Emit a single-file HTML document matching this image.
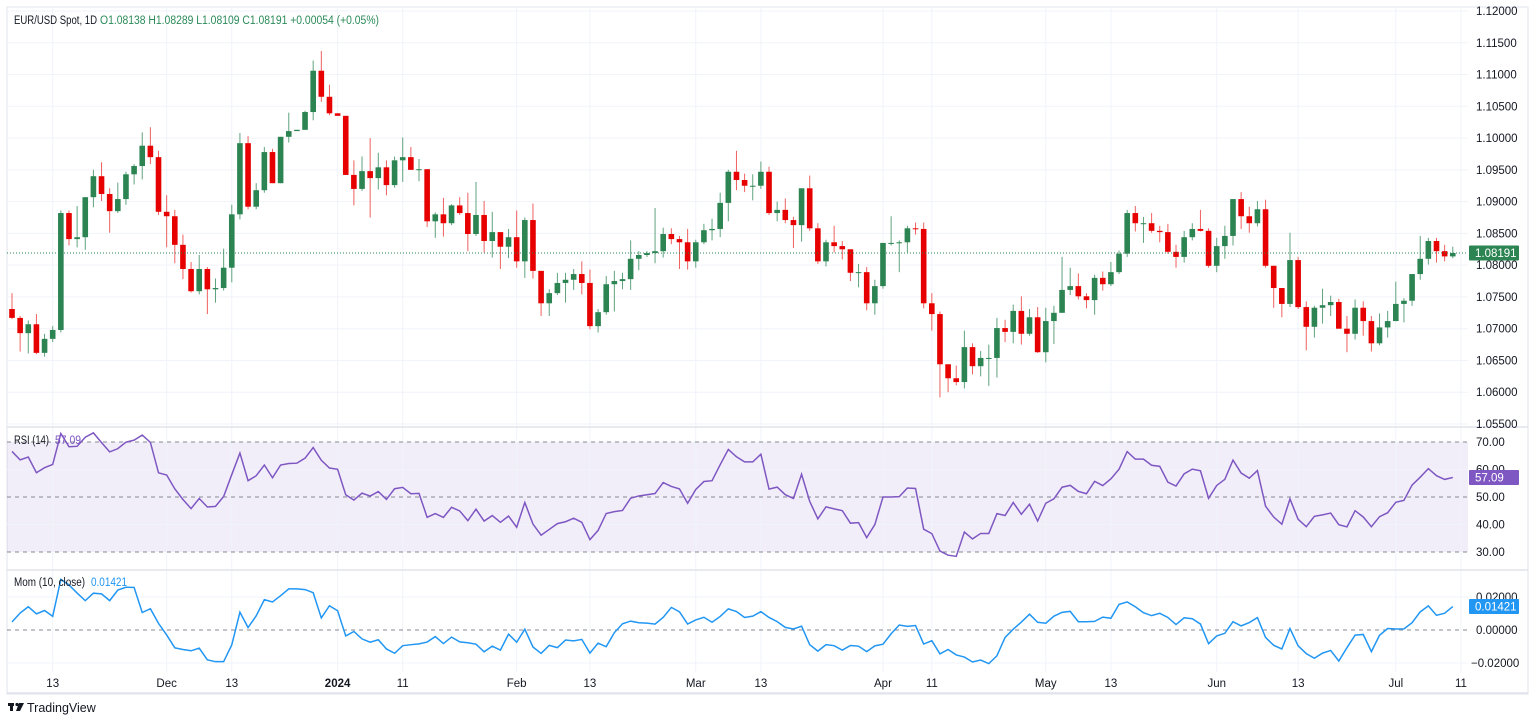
<!DOCTYPE html>
<html><head><meta charset="utf-8"><title>EUR/USD Spot 1D</title>
<style>
html,body{margin:0;padding:0;background:#fff;width:1536px;height:722px;overflow:hidden;font-family:"Liberation Sans",sans-serif;}
svg{display:block}
</style></head>
<body>
<svg id="chart" width="1536" height="722" xmlns="http://www.w3.org/2000/svg" font-family="Liberation Sans, sans-serif"></svg>
<script>
// ===== Data =====
const priorCloses = [1.0510,1.0556,1.0576,1.0534,1.0584,1.0594,1.0668,1.0590,1.0566,1.0564,1.0566,1.0615,1.0575,1.0568,1.0620,1.0729];
const firstOpen = 1.0731;
const closes = [
1.0717,1.0693,1.0707,1.0662,1.0684,1.0698,1.0882,1.0841,1.0844,1.0907,
1.0940,1.0912,1.0885,1.0904,1.0943,1.0956,1.0988,1.0970,1.0884,1.0877,
1.0832,1.0794,1.0759,1.0794,1.0762,1.0764,1.0796,1.0880,1.0992,1.0892,
1.0918,1.0978,1.0929,1.1002,1.1011,1.1013,1.1041,1.1106,1.1065,1.1039,
1.1035,1.0942,1.0920,1.0948,1.0937,1.0954,1.0926,1.0965,1.0970,1.0950,
1.0951,1.0869,1.0880,1.0866,1.0894,1.0882,1.0849,1.0879,1.0838,1.0852,
1.0829,1.0844,1.0806,1.0871,1.0791,1.0740,1.0756,1.0772,1.0777,1.0786,
1.0772,1.0704,1.0726,1.0770,1.0775,1.0778,1.0810,1.0816,1.0819,1.0822,
1.0849,1.0841,1.0836,1.0806,1.0836,1.0855,1.0857,1.0898,1.0947,1.0934,
1.0925,1.0925,1.0947,1.0882,1.0887,1.0871,1.0863,1.0921,1.0858,1.0806,
1.0836,1.0830,1.0825,1.0788,1.0789,1.0740,1.0767,1.0835,1.0835,1.0836,
1.0858,1.0857,1.0740,1.0723,1.0644,1.0622,1.0616,1.0671,1.0641,1.0654,
1.0654,1.0701,1.0695,1.0728,1.0692,1.0718,1.0663,1.0712,1.0725,1.0761,
1.0767,1.0751,1.0745,1.0780,1.0770,1.0789,1.0818,1.0882,1.0866,1.0866,
1.0854,1.0852,1.0821,1.0813,1.0844,1.0857,1.0854,1.0799,1.0830,1.0846,
1.0904,1.0877,1.0866,1.0888,1.0799,1.0764,1.0739,1.0808,1.0734,1.0703,
1.0733,1.0737,1.0742,1.0700,1.0692,1.0733,1.0712,1.0677,1.0702,1.0712,
1.0739,1.0744,1.0786,1.0810,1.0838,1.0822,1.08138,1.08191];
// upper / lower wick lengths in pips
const wickUp = [25,3,6,16,8,6,4,4,49,0,10,22,9,26,4,3,21,29,10,26,10,16,11,22,3,15,30,15,16,11,11,8,5,0,29,0,2,16,31,19,0,0,23,23,52,23,11,6,31,16,16,0,3,26,2,13,32,52,22,32,0,13,42,4,26,0,6,16,11,8,20,21,5,13,16,10,29,6,3,68,10,9,5,21,4,10,16,16,3,33,10,18,16,8,13,18,5,0,20,8,4,26,8,0,13,8,10,0,42,3,4,9,10,16,4,0,20,26,6,11,21,16,13,10,23,13,16,21,11,52,29,20,5,5,10,16,5,5,11,10,16,8,13,11,10,9,30,4,13,16,0,11,15,13,15,0,0,43,5,9,3,26,10,5,20,13,10,8,22,16,35,4,0,36,5,5,10,10];
const wickDn = [2,29,32,2,6,5,4,10,13,20,16,11,34,3,9,16,21,11,5,49,29,16,2,5,39,21,4,23,8,4,4,4,0,0,9,0,0,13,8,3,0,0,26,3,62,18,16,4,34,0,18,9,26,21,3,3,27,3,18,26,35,18,10,26,12,20,20,3,31,16,18,5,10,4,43,13,17,18,3,16,10,8,42,13,10,3,16,13,29,16,10,23,5,3,13,5,36,26,4,4,8,10,16,13,23,11,18,4,4,46,16,9,8,26,52,22,5,10,13,16,44,31,16,18,17,3,1,16,36,0,8,5,13,23,10,3,3,5,13,31,3,16,3,17,9,5,1,3,10,20,15,20,15,5,3,31,21,5,3,37,17,25,17,0,29,9,23,13,3,16,0,29,8,9,9,18,8,3];
const timeLabels = ["13","Dec","13","2024","11","Feb","13","Mar","13","Apr","11","May","13","Jun","13","Jul","11"];
const timeIdx = [5,19,27,40,48,62,71,84,92,107,113,127,135,148,158,170,178];
const priceTicks = [1.12,1.115,1.11,1.105,1.10,1.095,1.09,1.085,1.08,1.075,1.07,1.065,1.06,1.055];
const rsiTicks = [70,60,50,40,30];
const momTicks = [0.02,0,-0.02];

// ===== Scales =====
const X0 = 12, DX = 8.14;
const xAt = i => X0 + i*DX;
const yP = p => 11 + (1.12 - p)/0.005*31.77;
const yR = v => 552 - (v-30)/40*110;
const yM = v => 630 - v/0.02*33;

const svg = document.getElementById('chart');
const NS = 'http://www.w3.org/2000/svg';
function mk(tag, attrs, parent){
  const e = document.createElementNS(NS, tag);
  for (const k in attrs) e.setAttribute(k, attrs[k]);
  (parent||svg).appendChild(e);
  return e;
}

// ===== Frame / grid =====
const grid = mk('g', {});


mk('rect', {x:7,y:7,width:1521,height:687,fill:'#fff',stroke:'#e0e3eb','stroke-width':1}, grid);
const band = mk('rect', {x:7,y:yR(70),width:1461,height:yR(30)-yR(70),fill:'#7e57c2','fill-opacity':0.1}, grid);


timeIdx.forEach(i => mk('line', {x1:xAt(i),x2:xAt(i),y1:7,y2:672,stroke:'#f0f3fa','stroke-width':1}, grid));
priceTicks.forEach(p => mk('line', {x1:7,x2:1468,y1:yP(p),y2:yP(p),stroke:'#f0f3fa'}, grid));
[60,40].forEach(v => mk('line', {x1:7,x2:1468,y1:yR(v),y2:yR(v),stroke:'#f0f3fa'}, grid));
mk('line', {x1:7,x2:1468,y1:yM(0.02),y2:yM(0.02),stroke:'#f0f3fa'}, grid);
mk('line', {x1:7,x2:1468,y1:yM(-0.02),y2:yM(-0.02),stroke:'#f0f3fa'}, grid);
[70,50,30].forEach(v => mk('line', {x1:7,x2:1468,y1:yR(v),y2:yR(v),stroke:'#868993','stroke-dasharray':'4 4'}, grid));
mk('line', {x1:7,x2:1468,y1:yM(0),y2:yM(0),stroke:'#868993','stroke-dasharray':'4 4'}, grid);
[427,570,693].forEach(y => mk('line', {x1:7,x2:1528,y1:y,y2:y,stroke:'#e0e3eb','stroke-width':1.5}, grid));

// ===== Candles =====
const candles = mk('g', {});


for (let i=0;i<closes.length;i++){
  const o = i===0 ? firstOpen : closes[i-1];
  const c = closes[i];
  const hi = Math.max(o,c) + wickUp[i]*0.0001;
  const lo = Math.min(o,c) - wickDn[i]*0.0001;
  const up = c >= o;
  const col = up ? '#2b8452' : '#e60000';
  const wcol = up ? '#5fa37e' : '#f06060';
  const x = xAt(i);
  const w = mk('line', {x1:x,x2:x,y1:yP(hi),y2:yP(lo),stroke:wcol,'stroke-width':1}, candles);
  
  
  const top = yP(Math.max(o,c)), bot = yP(Math.min(o,c));
  const b = mk('rect', {x:x-2.8,y:top,width:5.6,height:Math.max(1,bot-top),fill:col}, candles);
  
  
}
const lastC = closes[closes.length-1];
const pl = mk('line', {x1:7,x2:1468,y1:yP(lastC),y2:yP(lastC),stroke:'#2b8452','stroke-dasharray':'1 2','stroke-width':1});



// ===== Indicators =====
const all = priorCloses.concat(closes);
const P = priorCloses.length;
let ag=0, al=0;
for (let k=1;k<P;k++){ const d=all[k]-all[k-1]; if(d>0)ag+=d; else al-=d; }
ag/=(P-1); al/=(P-1);
const rsi=[], mom=[];
for (let k=P;k<all.length;k++){
  const d = all[k]-all[k-1];
  ag = (ag*13 + Math.max(d,0))/14;
  al = (al*13 + Math.max(-d,0))/14;
  rsi.push(al===0?100:100-100/(1+ag/al));
  mom.push(all[k]-all[k-10]);
}
const rp = mk('polyline', {points:rsi.map((v,i)=>xAt(i)+','+yR(v)).join(' '),fill:'none',stroke:'#7e57c2','stroke-width':1.5});


const mp = mk('polyline', {points:mom.map((v,i)=>xAt(i)+','+yM(v)).join(' '),fill:'none',stroke:'#2196f3','stroke-width':1.5});



// ===== Axes labels =====
const axis = mk('g', {'font-size':11.5,fill:'#131722'});


priceTicks.forEach(p => { const t=mk('text',{x:1476,y:yP(p)+4},axis); t.textContent=p.toFixed(5); });
rsiTicks.forEach(v => { const t=mk('text',{x:1476,y:yR(v)+4},axis); t.textContent=v.toFixed(2); });
momTicks.forEach(v => { const t=mk('text',{x: v<0?1471:1476,y:yM(v)+4},axis); t.textContent=(v<0?'\u22120.02000':v.toFixed(5)); });

const tax = mk('g', {'font-size':11.5,fill:'#131722','text-anchor':'middle'});


timeLabels.forEach((s,k) => { const t=mk('text',{x:xAt(timeIdx[k]),y:687,'font-weight':s==='2024'?'bold':'normal'},tax); t.textContent=s; });

function badge(name, y, txt, col){
  const g = mk('g', {});
  
  
  mk('rect', {x:1469,y:y-7.5,width:50,height:15,fill:col,rx:1}, g);
  const t = mk('text', {x:1475,y:y+4,'font-size':11.5,fill:'#fff'}, g);
  t.textContent = txt;
}
badge('last-price-badge', yP(lastC), lastC.toFixed(5), '#2b8452');
badge('rsi-value-badge', yR(rsi[rsi.length-1]), rsi[rsi.length-1].toFixed(2), '#7e57c2');
badge('mom-value-badge', yM(mom[mom.length-1]), mom[mom.length-1].toFixed(5), '#2196f3');

function txt(name, x, y, s, col, len){
  const t = mk('text', {x:x,y:y,'font-size':11.5,fill:col,textLength:len,lengthAdjust:'spacingAndGlyphs'});
  
  
  t.setAttribute('xml:space', 'preserve');
  t.textContent = s;
  return t;
}
txt('symbol-title', 14, 24, 'EUR/USD Spot, 1D', '#131722', 83);
txt('ohlc-values', 100, 24, 'O1.08138  H1.08289  L1.08109  C1.08191  +0.00054 (+0.05%)', '#2b8a58', 279);
txt('rsi-legend', 14, 444, 'RSI (14)', '#131722', 35);
txt('rsi-legend-value', 55, 444, rsi[rsi.length-1].toFixed(2), '#7e57c2', 26);
txt('mom-legend', 14, 586, 'Mom (10, close)', '#131722', 71);
txt('mom-legend-value', 91, 586, mom[mom.length-1].toFixed(5), '#2196f3', 36);

const lg = mk('g', {});


mk('rect', {x:8,y:703,width:6,height:3,fill:'#131722'}, lg);
mk('rect', {x:10,y:703,width:3,height:8,fill:'#131722'}, lg);
mk('circle', {cx:17,cy:704.5,r:1.6,fill:'#131722'}, lg);
mk('polygon', {points:'19,703 24,703 20,711 16,711',fill:'#131722'}, lg);
const tv = mk('text', {x:27,y:712,'font-size':12.5,fill:'#131722'}, lg);
tv.textContent = 'TradingView';
</script>
</body></html>
